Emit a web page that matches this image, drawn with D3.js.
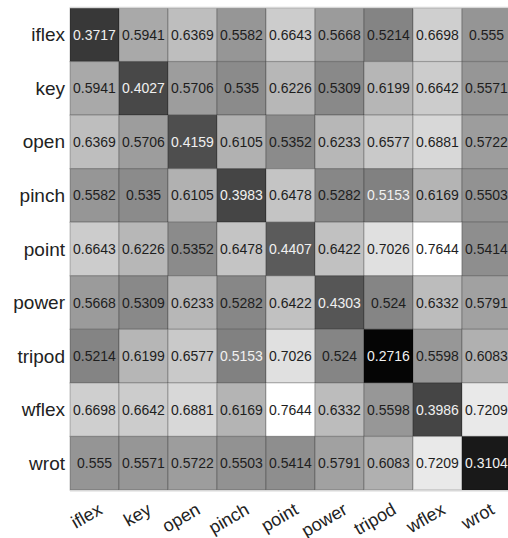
<!DOCTYPE html>
<html><head><meta charset="utf-8">
<script src="https://cdn.jsdelivr.net/npm/d3@7/dist/d3.min.js"></script>
<style>body{margin:0;background:#fff;overflow:hidden}svg{display:block}</style>
</head><body>
<svg id="c" width="508" height="538"></svg>
<script>
const categories = ["iflex","key","open","pinch","point","power","tripod","wflex","wrot"];
const rowIflex  = [0.3717,0.5941,0.6369,0.5582,0.6643,0.5668,0.5214,0.6698,0.555];
const rowKey    = [0.5941,0.4027,0.5706,0.535,0.6226,0.5309,0.6199,0.6642,0.5571];
const rowOpen   = [0.6369,0.5706,0.4159,0.6105,0.5352,0.6233,0.6577,0.6881,0.5722];
const rowPinch  = [0.5582,0.535,0.6105,0.3983,0.6478,0.5282,0.5153,0.6169,0.5503];
const rowPoint  = [0.6643,0.6226,0.5352,0.6478,0.4407,0.6422,0.7026,0.7644,0.5414];
const rowPower  = [0.5668,0.5309,0.6233,0.5282,0.6422,0.4303,0.524,0.6332,0.5791];
const rowTripod = [0.5214,0.6199,0.6577,0.5153,0.7026,0.524,0.2716,0.5598,0.6083];
const rowWflex  = [0.6698,0.6642,0.6881,0.6169,0.7644,0.6332,0.5598,0.3986,0.7209];
const rowWrot   = [0.555,0.5571,0.5722,0.5503,0.5414,0.5791,0.6083,0.7209,0.3104];
const matrix = [rowIflex,rowKey,rowOpen,rowPinch,rowPoint,rowPower,rowTripod,rowWflex,rowWrot];

const svg = d3.select("#c");
const mLeft = 70, mTop = 8, cw = 49, mBottom = 490;
const x = d3.scaleBand().domain(categories).range([mLeft, mLeft + cw*categories.length]).padding(0);
const y = d3.scaleBand().domain(categories).range([mTop, mBottom]).padding(0);
const all = matrix.flat();
const color = d3.scaleLinear().domain([d3.min(all), d3.max(all)]).range(["#050505","#ffffff"]);
const FONT = "'Liberation Sans', Arial, Helvetica, sans-serif";

const cells = [];
matrix.forEach((row,i)=>row.forEach((v,j)=>cells.push({r:categories[i], c:categories[j], v})));

const g = svg.append("g");
g.selectAll("rect").data(cells).join("rect")
  .attr("x", d=>x(d.c)).attr("y", d=>y(d.r))
  .attr("width", x.bandwidth()).attr("height", y.bandwidth())
  .attr("fill", d=>color(d.v))
  .attr("stroke", "rgba(0,0,0,0.2)").attr("stroke-width", 1.2);

g.selectAll("text.v").data(cells).join("text").attr("class","v")
  .attr("x", d=>x(d.c)+x.bandwidth()/2).attr("y", d=>y(d.r)+y.bandwidth()/2)
  .attr("text-anchor","middle").attr("dominant-baseline","central")
  .attr("font-family",FONT).attr("font-size", 14)
  .attr("fill", d=> d.v < 0.52 ? "#f0f0f0" : "#1e1e1e")
  .text(d=>String(d.v));

svg.append("line").attr("x1",mLeft).attr("x2",508).attr("y1",mTop-0.5).attr("y2",mTop-0.5)
  .attr("stroke","#d8d8d8").attr("stroke-width",1.5);
svg.append("line").attr("x1",mLeft).attr("x2",508).attr("y1",mBottom+0.8).attr("y2",mBottom+0.8)
  .attr("stroke","#d8d8d8").attr("stroke-width",1.5);

svg.selectAll("text.r").data(categories).join("text").attr("class","r")
  .attr("x", mLeft-5).attr("y", d=>y(d)+y.bandwidth()/2)
  .attr("text-anchor","end").attr("dominant-baseline","central")
  .attr("font-family",FONT).attr("font-size",19)
  .attr("fill","#222").text(d=>d);

svg.selectAll("text.c").data(categories).join("text").attr("class","c")
  .attr("transform", d=>`translate(${x(d)+x.bandwidth()/2+9},${513}) rotate(-30)`)
  .attr("text-anchor","end")
  .attr("font-family",FONT).attr("font-size",18)
  .attr("fill","#222").text(d=>d);
</script>
</body></html>
